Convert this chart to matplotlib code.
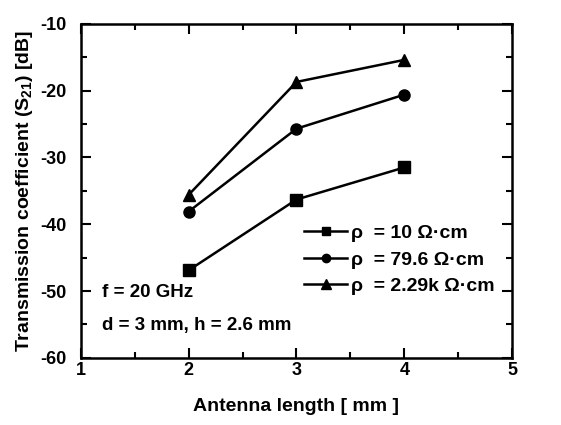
import matplotlib
matplotlib.use("Agg")
import matplotlib.pyplot as plt
from matplotlib.ticker import MultipleLocator

plt.rcParams['font.family'] = ['Liberation Sans', 'DejaVu Sans']
plt.rcParams['font.weight'] = 'bold'
plt.rcParams['axes.labelweight'] = 'bold'
plt.rcParams['axes.unicode_minus'] = False
plt.rcParams['mathtext.fontset'] = 'custom'
plt.rcParams['mathtext.rm'] = 'Liberation Sans:bold'
plt.rcParams['mathtext.it'] = 'Liberation Sans:bold'
plt.rcParams['mathtext.bf'] = 'Liberation Sans:bold'

length = [2, 3, 4]
s21_10 = [-46.9, -36.3, -31.5]
s21_796 = [-38.1, -25.7, -20.6]
s21_229k = [-35.6, -18.7, -15.4]
labels = ["\u03c1  = 10 \u03a9\u00b7cm", "\u03c1  = 79.6 \u03a9\u00b7cm", "\u03c1  = 2.29k \u03a9\u00b7cm"]

fig = plt.figure(figsize=(5.61, 4.25), dpi=100)
ax = fig.add_axes([0.144, 0.158, 0.769, 0.786])

ax.plot(length, s21_10, color="black", lw=1.8, marker="s", ms=8, label=labels[0])
ax.plot(length, s21_796, color="black", lw=1.8, marker="o", ms=8, label=labels[1])
ax.plot(length, s21_229k, color="black", lw=1.8, marker="^", ms=9, label=labels[2])

ax.set_xlim(1, 5)
ax.set_ylim(-60, -10)
ax.xaxis.set_major_locator(MultipleLocator(1))
ax.xaxis.set_minor_locator(MultipleLocator(0.5))
ax.yaxis.set_major_locator(MultipleLocator(10))
ax.yaxis.set_minor_locator(MultipleLocator(5))
ax.tick_params(which="both", direction="in", top=True, right=True, width=1.5, labelsize=13)
ax.tick_params(which="major", length=7)
ax.tick_params(which="minor", length=4)
ax.tick_params(axis="x", pad=3)
ax.tick_params(axis="y", pad=10)
for sp in ax.spines.values():
    sp.set_linewidth(1.8)

ax.set_xlabel("Antenna length [ mm ]", fontsize=14, labelpad=14)
ax.set_ylabel("Transmission coefficient (S$_{21}$) [dB]", fontsize=14, labelpad=4)

ax.text(1.2, -50.9, "f = 20 GHz", fontsize=13.5)
ax.text(1.2, -55.8, "d = 3 mm, h = 2.6 mm", fontsize=13.5)

ax.legend(loc="lower left", bbox_to_anchor=(0.5, 0.165), frameon=False, fontsize=14,
          handlelength=2.2, handletextpad=0.2, labelspacing=0.45, markerscale=0.75,
          borderaxespad=0)

fig.savefig("out.png", dpi=100)
